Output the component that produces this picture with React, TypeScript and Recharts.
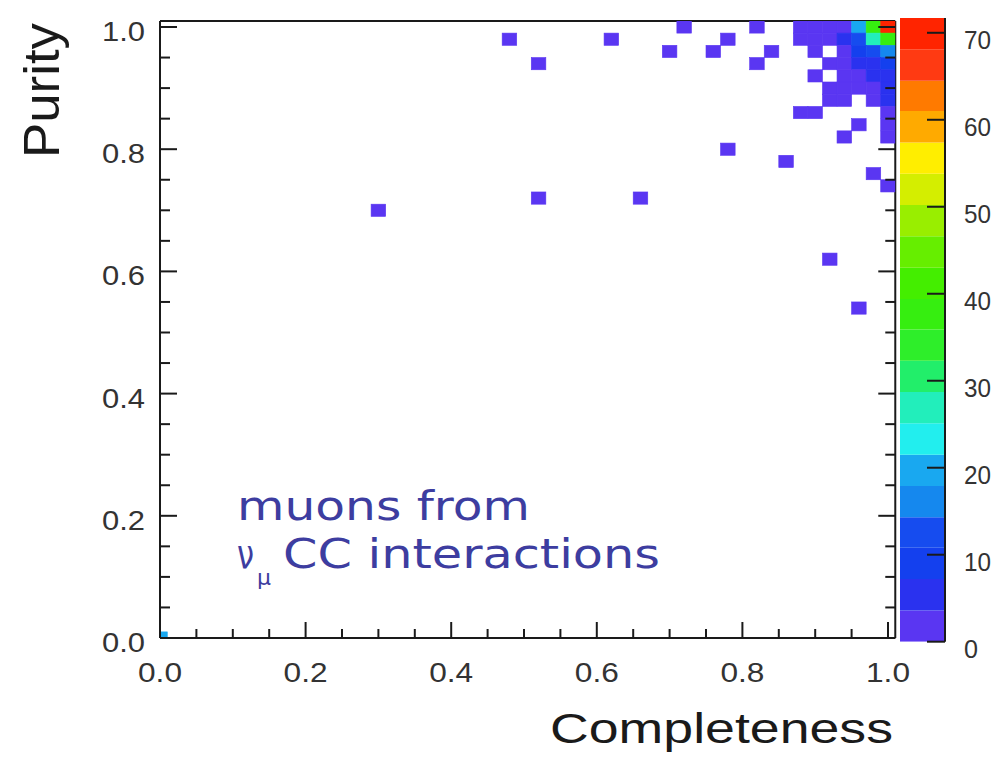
import { Bar, BarChart, Scatter, ScatterChart, XAxis, YAxis } from 'recharts'

// filled bins of the 2D histogram (bin centres, bins are 0.02 wide)
const completeness = [
  0.72, 0.82, 0.88, 0.9, 0.92, 0.94, 0.96, 0.98, 1.0,
  0.48, 0.62, 0.78, 0.88, 0.9, 0.92, 0.94, 0.96, 0.98, 1.0,
  0.7, 0.76, 0.84, 0.9, 0.94, 0.96, 0.98, 1.0,
  0.52, 0.82, 0.92, 0.94, 0.96, 0.98, 1.0,
  0.9, 0.94, 0.96, 0.98, 1.0,
  0.92, 0.94, 0.96, 0.98, 1.0,
  0.92, 0.94, 0.98, 1.0,
  0.88, 0.9, 1.0,
  0.96, 1.0,
  0.94, 1.0,
  0.78, 0.86, 0.98, 1.0,
  0.52, 0.66, 0.3, 0.92, 0.96, 0.0,
]
const purity = [
  1.0, 1.0, 1.0, 1.0, 1.0, 1.0, 1.0, 1.0, 1.0,
  0.98, 0.98, 0.98, 0.98, 0.98, 0.98, 0.98, 0.98, 0.98, 0.98,
  0.96, 0.96, 0.96, 0.96, 0.96, 0.96, 0.96, 0.96,
  0.94, 0.94, 0.94, 0.94, 0.94, 0.94, 0.94,
  0.92, 0.92, 0.92, 0.92, 0.92,
  0.9, 0.9, 0.9, 0.9, 0.9,
  0.88, 0.88, 0.88, 0.88,
  0.86, 0.86, 0.86,
  0.84, 0.84,
  0.82, 0.82,
  0.8, 0.78, 0.76, 0.74,
  0.72, 0.72, 0.7, 0.62, 0.54, 0.0,
]
const entries = [
  1, 1, 2, 2, 3, 3, 18, 36, 71,
  1, 1, 1, 2, 2, 2, 4, 12, 26, 38,
  1, 1, 1, 1, 3, 9, 12, 15,
  1, 1, 2, 2, 4, 7, 10,
  1, 2, 3, 4, 7,
  1, 1, 2, 3, 6,
  1, 1, 2, 4,
  1, 1, 3,
  1, 2,
  1, 1,
  1, 1, 1, 1,
  1, 1, 1, 1, 1, 20,
]

const axisTicks = [
  0, 0.05, 0.1, 0.15, 0.2, 0.25, 0.3, 0.35, 0.4, 0.45, 0.5,
  0.55, 0.6, 0.65, 0.7, 0.75, 0.8, 0.85, 0.9, 0.95, 1.0,
]

// colour palette (20 contour levels)
const zLevels = [
  0, 3.6, 7.2, 10.8, 14.3, 17.9, 21.5, 25.1, 28.7, 32.3, 35.9,
  39.4, 43.0, 46.6, 50.2, 53.8, 57.4, 61.0, 64.5, 68.1, 71.7,
]
const zPalette = [
  '#5a36f2', '#2a32ef', '#1440ee', '#164cef', '#1588ee',
  '#19a8f0', '#22eeee', '#22eebb', '#22ee6a', '#2eee2a',
  '#36ee10', '#44ee00', '#66ee00', '#99ee00', '#d4ee00',
  '#ffee00', '#ffaa00', '#ff7a00', '#ff3a12', '#ff2400',
]
const zTicks = [0, 10, 20, 30, 40, 50, 60, 70]

const INK = '#1a1a1a'
const LABEL = '#333'
const SANS = '"Liberation Sans", Arial, Helvetica, sans-serif'

const W = 923
const H = 746
const MARGIN = { top: 10.89, right: 33.72, bottom: 76, left: 92 }
const YL_W = 60
const YR_W = 2
const XT_H = 2
const XB_H = 40
const PLOT_W = W - MARGIN.left - MARGIN.right - YL_W - YR_W
const PLOT_H = H - MARGIN.top - MARGIN.bottom - XT_H - XB_H
const SPAN = 1.01
const BIN = 0.02

const points = completeness.map((x, i) => ({ x, y: purity[i], n: entries[i] }))

const zRow = zPalette.reduce<Record<string, number | string>>(
  (row, _, i) => {
    row[`b${i}`] = zLevels[i + 1] - zLevels[i]
    return row
  },
  { name: 'z' }
)

function colorFor(n: number) {
  for (let i = zPalette.length - 1; i >= 0; i--) {
    if (n >= zLevels[i]) return zPalette[i]
  }
  return zPalette[0]
}

const isMajor = (v: number) => Math.abs(v * 5 - Math.round(v * 5)) < 1e-6

function Cell(props: any) {
  const { cx, cy, payload } = props
  const w = (PLOT_W * BIN) / SPAN
  const h = (PLOT_H * BIN) / SPAN
  const c = colorFor(payload.n)
  return (
    <rect x={cx - w / 2} y={cy - h / 2} width={w} height={h} fill={c} stroke={c} strokeWidth={0.6} />
  )
}

function BottomTick({ x, y, payload }: any) {
  const major = isMajor(payload.value)
  return (
    <g>
      <line x1={x} y1={y} x2={x} y2={y - (major ? 16 : 9)} stroke={INK} strokeWidth={2} />
      {major && (
        <text x={x} y={y + 44} textAnchor="middle" fontSize={27} fontFamily={SANS} fill={LABEL}
          textLength={44} lengthAdjust="spacingAndGlyphs">
          {payload.value.toFixed(1)}
        </text>
      )}
    </g>
  )
}

function TopTick({ x, y, payload }: any) {
  const major = isMajor(payload.value)
  return <line x1={x} y1={y} x2={x} y2={y + (major ? 16 : 9)} stroke={INK} strokeWidth={2} />
}

function LeftTick({ x, y, payload }: any) {
  const major = isMajor(payload.value)
  return (
    <g>
      <line x1={x} y1={y} x2={x + (major ? 17 : 10)} y2={y} stroke={INK} strokeWidth={2} />
      {major && (
        <text x={x - 15} y={y + 14} textAnchor="end" fontSize={27} fontFamily={SANS} fill={LABEL}
          textLength={43} lengthAdjust="spacingAndGlyphs">
          {payload.value.toFixed(1)}
        </text>
      )}
    </g>
  )
}

function RightTick({ x, y, payload }: any) {
  const major = isMajor(payload.value)
  return <line x1={x} y1={y} x2={x - (major ? 17 : 10)} y2={y} stroke={INK} strokeWidth={2} />
}

function ZTick({ x, y, payload }: any) {
  return (
    <g>
      <line x1={x} y1={y} x2={x - 18} y2={y} stroke={INK} strokeWidth={2} />
      <text x={x + 19} y={y + 16} fontSize={26} fontFamily={SANS} fill={LABEL}
        textLength={payload.value < 10 ? 14 : 27} lengthAdjust="spacingAndGlyphs">
        {payload.value}
      </text>
    </g>
  )
}

export default function App() {
  const axisLine = { stroke: INK, strokeWidth: 2 }
  return (
    <div style={{ position: 'relative', width: 985, height: 754, marginBottom: -8, overflow: 'hidden', background: '#fff' }}>
      <div style={{ position: 'absolute', left: 0, top: 0 }}>
        <ScatterChart width={W} height={H} margin={MARGIN}>
          <XAxis
            type="number" dataKey="x" domain={[0, SPAN]} ticks={axisTicks} interval={0}
            allowDataOverflow height={XB_H} tickSize={0} tickMargin={0} tickLine={false}
            axisLine={axisLine} tick={(p: any) => <BottomTick {...p} />}
          />
          <XAxis
            xAxisId="top" orientation="top" type="number" domain={[0, SPAN]} ticks={axisTicks}
            interval={0} allowDataOverflow height={XT_H} tickSize={0} tickMargin={0} tickLine={false}
            axisLine={axisLine} tick={(p: any) => <TopTick {...p} />}
          />
          <YAxis
            type="number" dataKey="y" domain={[0, SPAN]} ticks={axisTicks} interval={0}
            allowDataOverflow width={YL_W} tickSize={0} tickMargin={0} tickLine={false}
            axisLine={axisLine} tick={(p: any) => <LeftTick {...p} />}
          />
          <YAxis
            yAxisId="right" orientation="right" type="number" domain={[0, SPAN]} ticks={axisTicks}
            interval={0} allowDataOverflow width={YR_W} tickSize={0} tickMargin={0} tickLine={false}
            axisLine={axisLine} tick={(p: any) => <RightTick {...p} />}
          />
          <Scatter data={points} shape={Cell} isAnimationActive={false} />
        </ScatterChart>
      </div>

      <div style={{ position: 'absolute', left: 892, top: 0 }}>
        <BarChart width={93} height={H} data={[zRow]} margin={{ top: 10, right: 0, bottom: 112.3, left: 0 }}
          barCategoryGap={0} barGap={0}>
          <XAxis dataKey="name" hide />
          <YAxis
            orientation="right" type="number" domain={[0, 71.7]} ticks={zTicks} interval={0}
            allowDataOverflow width={48} tickSize={0} tickMargin={0} tickLine={false}
            axisLine={axisLine} tick={(p: any) => <ZTick {...p} />}
          />
          {zPalette.map((c, i) => (
            <Bar key={c} dataKey={`b${i}`} stackId="z" fill={c} isAnimationActive={false} />
          ))}
        </BarChart>
      </div>

      <svg width={985} height={754} style={{ position: 'absolute', left: 0, top: 0, pointerEvents: 'none' }}>
        <text x={51} y={15} transform="rotate(-90 51 15)" textAnchor="end" fontSize={50}
          fontFamily={SANS} fill={INK} textLength={135} lengthAdjust="spacingAndGlyphs">
          Purity
        </text>
        <text x={542} y={735} fontSize={42} fontFamily={SANS} fill={INK}
          textLength={343} lengthAdjust="spacingAndGlyphs">
          Completeness
        </text>
        <g fontFamily='"DejaVu Sans", Verdana, sans-serif' fill="#3d3da0">
          <text x={229} y={512} fontSize={40} textLength={293} lengthAdjust="spacingAndGlyphs">
            muons from
          </text>
          <text x={229} y={560} fontSize={40} textLength={17} lengthAdjust="spacingAndGlyphs">
            ν
          </text>
          <text x={249} y={577} fontSize={22}>μ</text>
          <text x={275} y={560} fontSize={40} textLength={377} lengthAdjust="spacingAndGlyphs">
            CC interactions
          </text>
        </g>
      </svg>
    </div>
  )
}
